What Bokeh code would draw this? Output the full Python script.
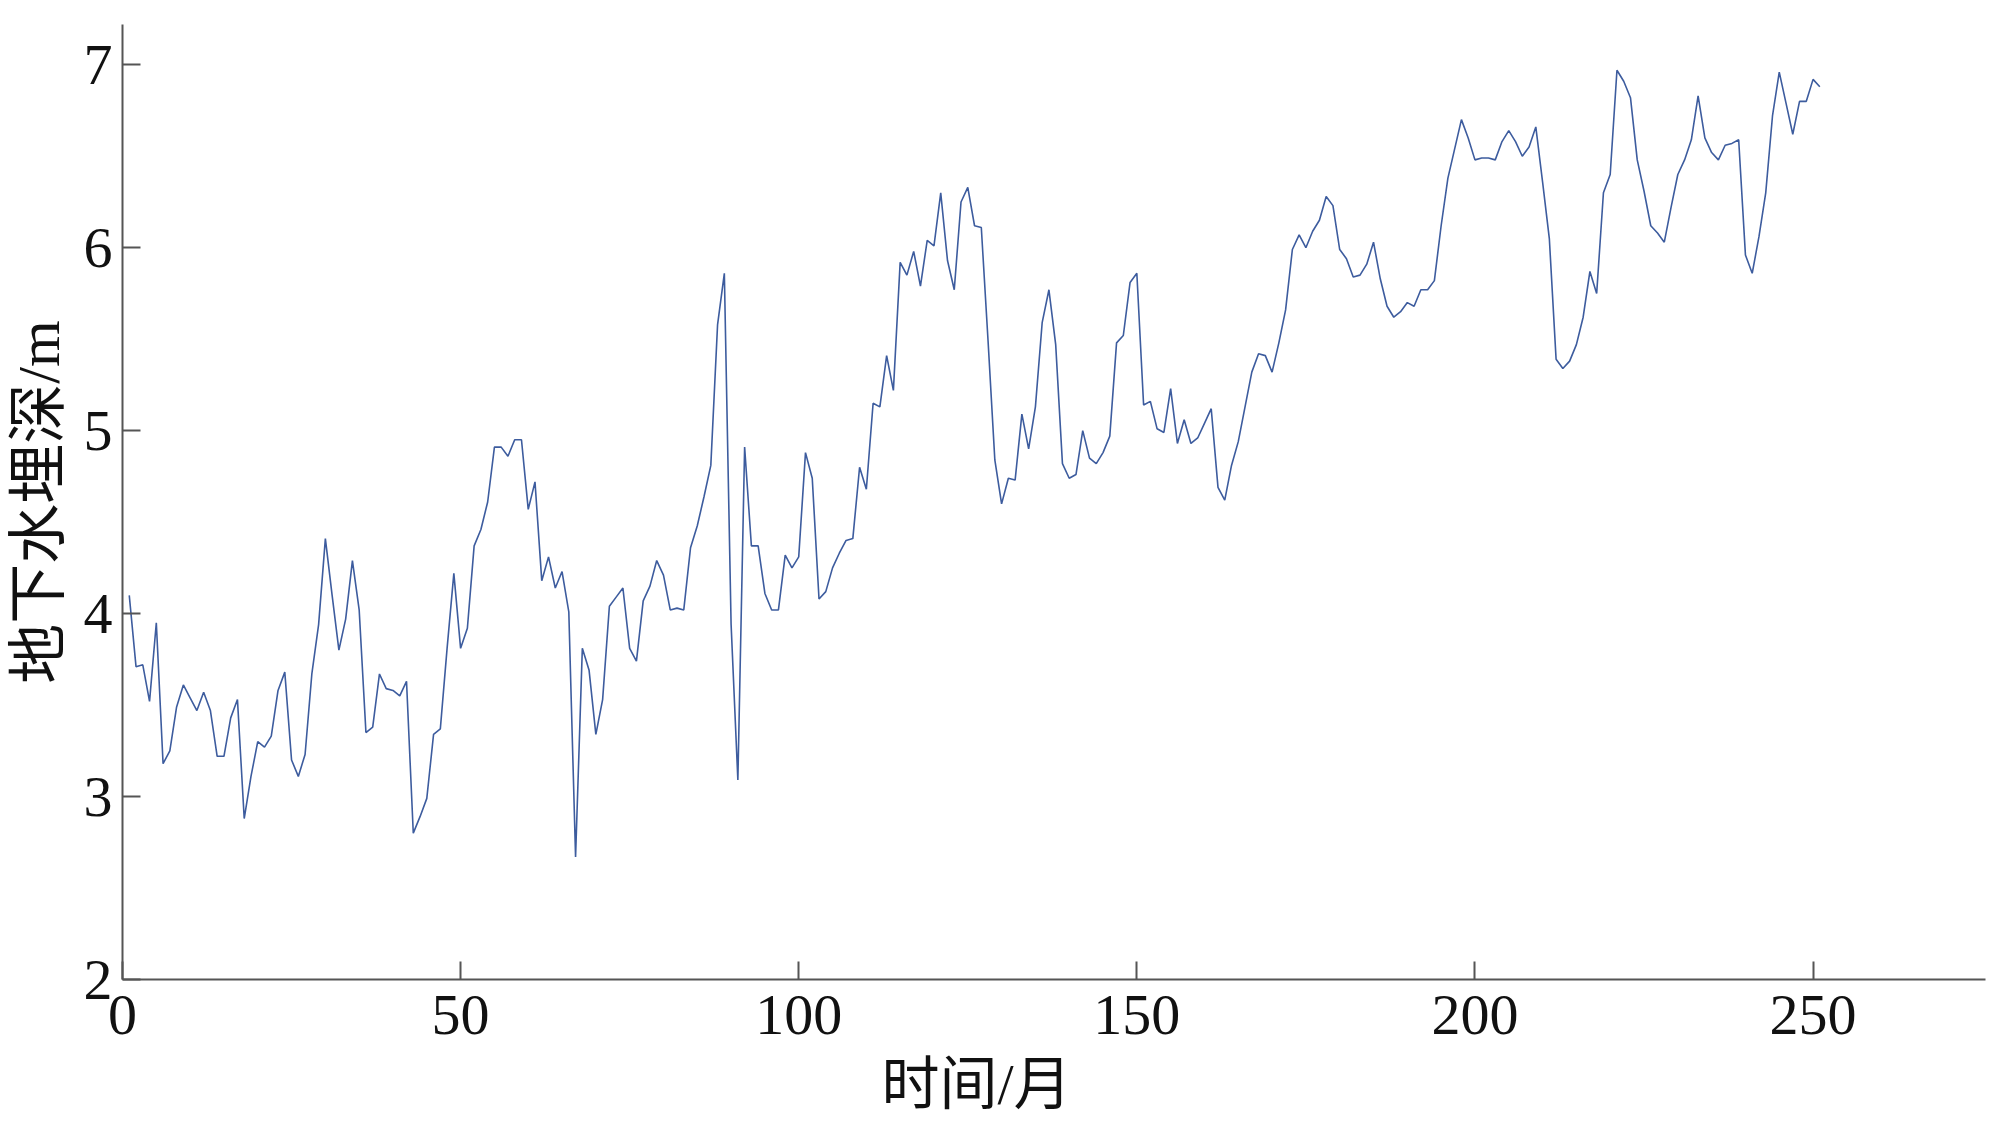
from bokeh.plotting import figure
from bokeh.models import Range1d, FixedTicker, Title
from bokeh.embed import file_html
from bokeh.resources import INLINE

# month index (1..251)
months = list(range(1, 252))

# groundwater depth (m)
depth = [
    4.10, 3.71, 3.72, 3.52, 3.95, 3.18, 3.25, 3.49, 3.61, 3.54,
    3.47, 3.57, 3.47, 3.22, 3.22, 3.43, 3.53, 2.88, 3.11, 3.30,
    3.27, 3.33, 3.58, 3.68, 3.20, 3.11, 3.23, 3.67, 3.94, 4.41,
    4.10, 3.80, 3.97, 4.29, 4.02, 3.35, 3.38, 3.67, 3.59, 3.58,
    3.55, 3.63, 2.80, 2.89, 2.99, 3.34, 3.37, 3.81, 4.22, 3.81,
    3.92, 4.37, 4.46, 4.61, 4.91, 4.91, 4.86, 4.95, 4.95, 4.57,
    4.72, 4.18, 4.31, 4.14, 4.23, 4.01, 2.67, 3.81, 3.69, 3.34,
    3.53, 4.04, 4.09, 4.14, 3.81, 3.74, 4.07, 4.15, 4.29, 4.21,
    4.02, 4.03, 4.02, 4.36, 4.48, 4.64, 4.81, 5.58, 5.86, 3.94,
    3.09, 4.91, 4.37, 4.37, 4.11, 4.02, 4.02, 4.32, 4.25, 4.31,
    4.88, 4.74, 4.08, 4.12, 4.25, 4.33, 4.40, 4.41, 4.80, 4.68,
    5.15, 5.13, 5.41, 5.22, 5.92, 5.85, 5.98, 5.79, 6.04, 6.01,
    6.30, 5.93, 5.77, 6.25, 6.33, 6.12, 6.11, 5.49, 4.84, 4.60,
    4.74, 4.73, 5.09, 4.90, 5.13, 5.59, 5.77, 5.47, 4.82, 4.74,
    4.76, 5.00, 4.85, 4.82, 4.88, 4.97, 5.48, 5.52, 5.81, 5.86,
    5.14, 5.16, 5.01, 4.99, 5.23, 4.93, 5.06, 4.93, 4.96, 5.04,
    5.12, 4.69, 4.62, 4.81, 4.94, 5.13, 5.32, 5.42, 5.41, 5.32,
    5.48, 5.66, 5.99, 6.07, 6.00, 6.09, 6.15, 6.28, 6.23, 5.99,
    5.94, 5.84, 5.85, 5.91, 6.03, 5.83, 5.68, 5.62, 5.65, 5.70,
    5.68, 5.77, 5.77, 5.82, 6.12, 6.38, 6.54, 6.70, 6.60, 6.48,
    6.49, 6.49, 6.48, 6.58, 6.64, 6.58, 6.50, 6.55, 6.66, 6.36,
    6.05, 5.39, 5.34, 5.38, 5.47, 5.62, 5.87, 5.75, 6.30, 6.40,
    6.97, 6.91, 6.82, 6.48, 6.31, 6.12, 6.08, 6.03, 6.22, 6.40,
    6.48, 6.59, 6.83, 6.60, 6.52, 6.48, 6.56, 6.57, 6.59, 5.96,
    5.86, 6.06, 6.30, 6.72, 6.96, 6.79, 6.62, 6.80, 6.80, 6.92,
    6.88,
]

x_ticks = [0, 50, 100, 150, 200, 250]
y_ticks = [2, 3, 4, 5, 6, 7]
x_label = "时间/月"
y_label = "地下水埋深/m"

p = figure(
    width=2000, height=1134,
    output_backend="svg", toolbar_location=None,
    x_range=Range1d(0, 275.5), y_range=Range1d(2, 7.22),
    min_border_left=122, min_border_right=15,
    min_border_top=24, min_border_bottom=155,
)
p.outline_line_color = None
p.grid.visible = False
p.background_fill_color = "white"
p.border_fill_color = "white"

p.line(months, depth, line_color="#3d5c9e", line_width=1.6)

font = "Liberation Serif, Noto Sans CJK SC"
for ax, ticks in ((p.xaxis[0], x_ticks), (p.yaxis[0], y_ticks)):
    ax.ticker = FixedTicker(ticks=ticks)
    ax.axis_line_color = "#555555"
    ax.axis_line_width = 2
    ax.major_tick_line_color = "#555555"
    ax.major_tick_line_width = 2
    ax.major_tick_in = 18
    ax.major_tick_out = 0
    ax.minor_tick_line_color = None
    ax.major_label_text_font = font
    ax.major_label_text_font_size = "58px"
    ax.major_label_text_color = "#111111"

p.xaxis[0].major_label_standoff = 16
p.yaxis[0].major_label_standoff = 10

# y title: regular axis label
yax = p.yaxis[0]
yax.axis_label = y_label
yax.axis_label_text_font = font
yax.axis_label_text_font_size = "60px"
yax.axis_label_text_font_style = "normal"
yax.axis_label_text_color = "#111111"
yax.axis_label_standoff = 9

# x title: off-centre in the reference, so use a Title below the axis
xt = Title(text=x_label, align="left", offset=759, vertical_align="top",
           standoff=30,
           text_font=font, text_font_size="58px", text_font_style="normal",
           text_color="#111111")
p.add_layout(xt, "below")

open("out.html", "w").write(file_html(p, INLINE))
